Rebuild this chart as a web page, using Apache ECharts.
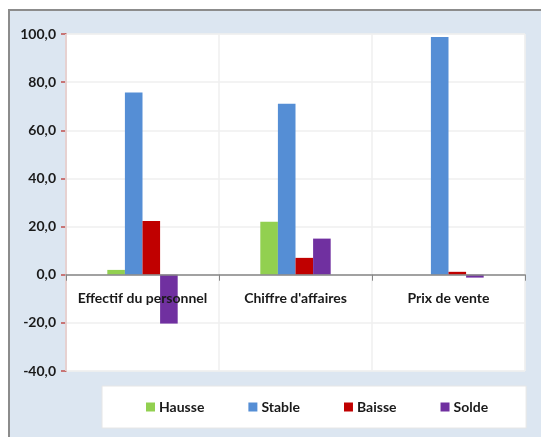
<!DOCTYPE html>
<html><head><meta charset="utf-8">
<script src="https://cdn.jsdelivr.net/npm/echarts@6/dist/echarts.min.js"></script>
<style>html,body{margin:0;padding:0;background:#fff}#c{width:541px;height:437px}</style>
</head><body><div id="c"></div>
<script>
const categories = ["Effectif du personnel", "Chiffre d'affaires", "Prix de vente"];
const hausse = [2.0, 22.0, 0.0];
const stable = [75.7, 71.0, 98.8];
const baisse = [22.3, 7.0, 1.2];
const solde = [-20.3, 15.0, -1.2];
const seriesNames = ["Hausse", "Stable", "Baisse", "Solde"];
const yTicks = { min: -40, max: 100, interval: 20 };

const font = "Lato, 'Liberation Sans', sans-serif";
const colors = ["#92d050", "#558ed5", "#c00000", "#7030a0"];
const chart = echarts.init(document.getElementById('c'), null, { renderer: 'canvas' });
const datas = [hausse, stable, baisse, solde];
const gridTop = 34, gridBottom = 66, H = 437;
const plotH = H - gridTop - gridBottom;
const zeroOffset = -plotH * (0 - yTicks.min) / (yTicks.max - yTicks.min);
chart.setOption({
  animation: false,
  backgroundColor: '#ffffff',
  graphic: [{
    type: 'rect', z: -10, silent: true,
    shape: { x: 9, y: 10, width: 540, height: 440 },
    style: { fill: '#dce6f1', stroke: '#8c8c8c', lineWidth: 2 }
  }],
  grid: { left: 66, right: 16, top: gridTop, bottom: gridBottom, show: true, backgroundColor: '#ffffff', borderColor: '#ececec', borderWidth: 1 },
  legend: {
    left: 102, top: 386,
    padding: [14, 38, 14, 44],
    backgroundColor: '#ffffff', borderColor: '#e6e6e6', borderWidth: 1,
    itemWidth: 9, itemHeight: 9, itemGap: 44,
    icon: 'rect',
    textStyle: { fontFamily: font, fontWeight: 'bold', fontSize: 14, color: '#1a1a1a', padding: [0, 0, 0, -1] },
    data: seriesNames
  },
  xAxis: {
    type: 'category', data: categories,
    z: 5,
    offset: zeroOffset,
    axisLine: { onZero: false, lineStyle: { color: '#868686', width: 1.5 } },
    axisTick: { show: true, interval: 0, length: 6, lineStyle: { color: '#868686' } },
    axisLabel: { interval: 0, hideOverlap: false, margin: 17, fontFamily: font, fontWeight: 'bold', fontSize: 14, color: '#1a1a1a' },
    splitLine: { show: true, interval: 0, lineStyle: { color: '#efefef', width: 1.5 } }
  },
  yAxis: {
    type: 'value', min: yTicks.min, max: yTicks.max, interval: yTicks.interval,
    axisLine: { show: true, lineStyle: { color: '#c0504d', width: 1.5 } },
    axisTick: { show: true, length: 5, lineStyle: { color: '#c0504d', width: 1.5 } },
    axisLabel: { margin: 10, fontFamily: font, fontWeight: 'bold', fontSize: 14, color: '#1a1a1a',
      formatter: v => v.toFixed(1).replace('.', ',') },
    splitLine: { show: true, lineStyle: { color: '#efefef', width: 1.5 } }
  },
  series: seriesNames.map((n, i) => ({
    name: n, type: 'bar', data: datas[i], barGap: '0%', barCategoryGap: '54%',
    z: 2,
    itemStyle: { color: colors[i] }
  }))
});
</script></body></html>
